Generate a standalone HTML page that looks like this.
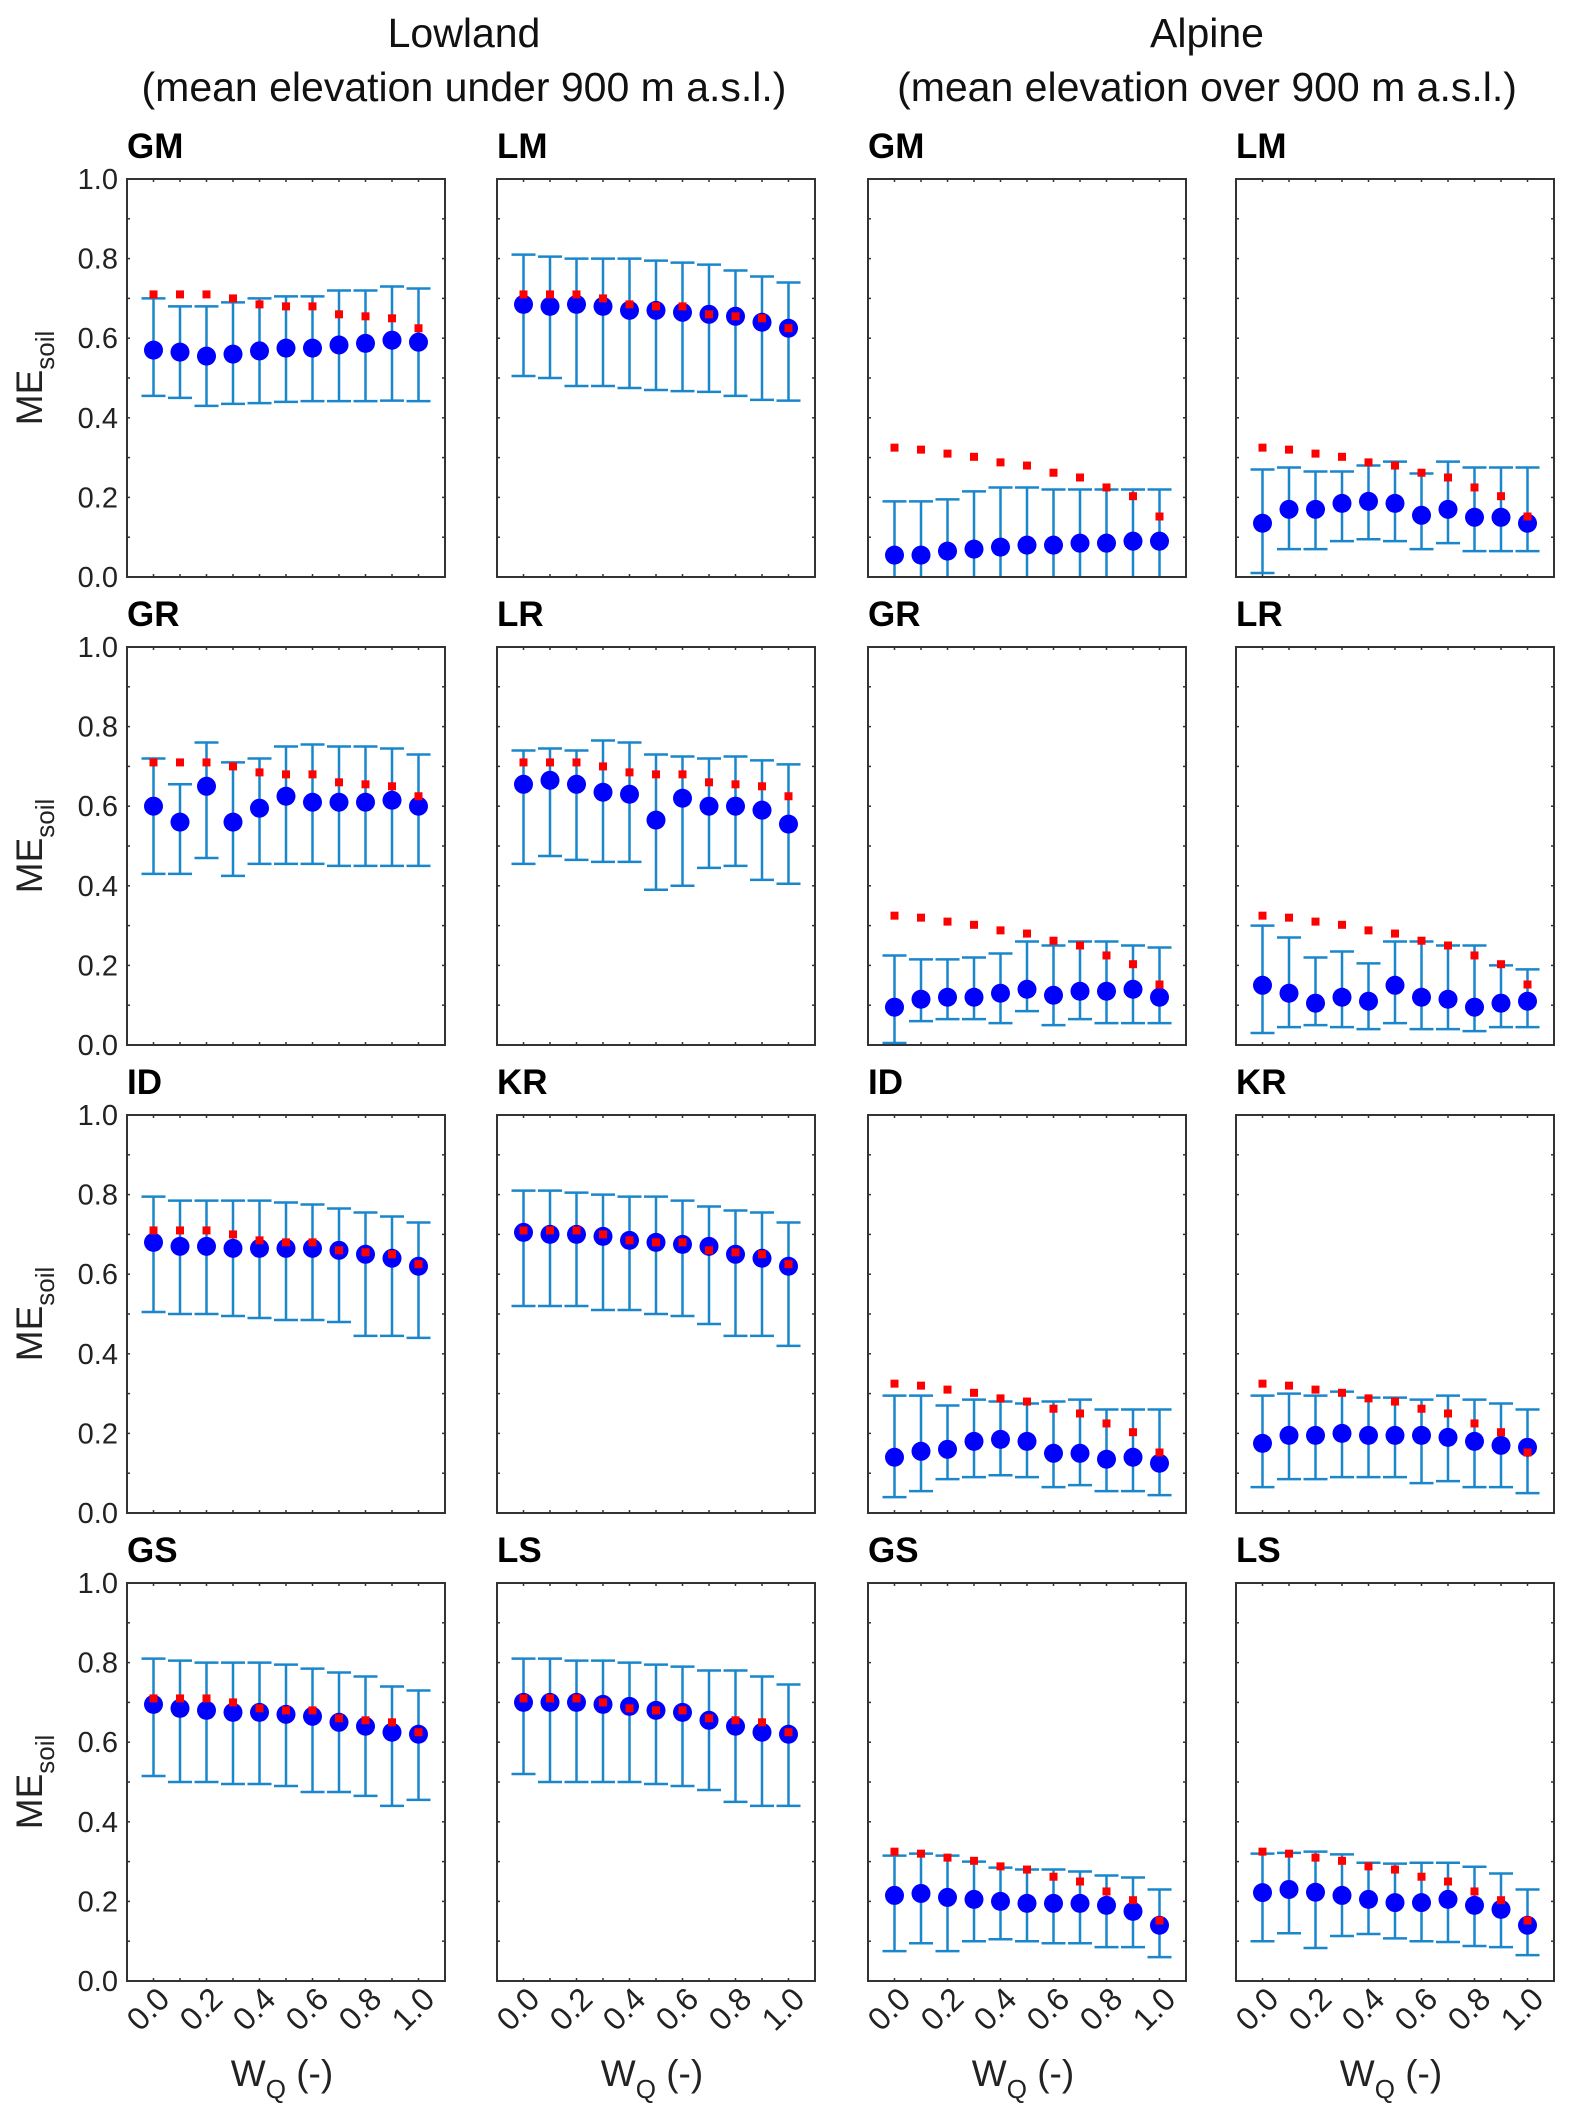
<!DOCTYPE html>
<html><head><meta charset="utf-8"><style>
html,body{margin:0;padding:0;background:#fff;}
svg{display:block;font-family:"Liberation Sans",Arial,sans-serif;}
</style></head><body>
<svg id="fig" width="1574" height="2124" viewBox="0 0 1574 2124" xmlns="http://www.w3.org/2000/svg">
<text x="464" y="47" font-size="41" text-anchor="middle" fill="#111">Lowland</text>
<text x="464" y="101" font-size="41" text-anchor="middle" fill="#111">(mean elevation under 900 m a.s.l.)</text>
<text x="1207" y="47" font-size="41" text-anchor="middle" fill="#111">Alpine</text>
<text x="1207" y="101" font-size="41" text-anchor="middle" fill="#111">(mean elevation over 900 m a.s.l.)</text>
</svg>
<script>
const wq = [0,0.1,0.2,0.3,0.4,0.5,0.6,0.7,0.8,0.9,1.0];
const xTickLabels = ["0.0","0.2","0.4","0.6","0.8","1.0"];
const yTickLabels = ["0.0","0.2","0.4","0.6","0.8","1.0"];
const redLow = [0.71,0.71,0.71,0.70,0.685,0.68,0.68,0.66,0.655,0.65,0.625];
const redAlp = [0.325,0.32,0.31,0.302,0.288,0.28,0.262,0.25,0.225,0.203,0.152];
const panelNames = ["GM","LM","GM","LM","GR","LR","GR","LR","ID","KR","ID","KR","GS","LS","GS","LS"];
const means = [
[.57,.565,.555,.56,.568,.575,.575,.583,.587,.595,.59],
[.685,.68,.685,.68,.67,.67,.665,.66,.655,.64,.625],
[.055,.055,.065,.07,.075,.08,.08,.085,.085,.09,.09],
[.135,.17,.17,.185,.19,.185,.155,.17,.15,.15,.135],
[.60,.56,.65,.56,.595,.625,.61,.61,.61,.615,.60],
[.655,.665,.655,.635,.63,.565,.62,.60,.60,.59,.555],
[.095,.115,.12,.12,.13,.14,.125,.135,.135,.14,.12],
[.15,.13,.105,.12,.11,.15,.12,.115,.095,.105,.11],
[.68,.67,.67,.665,.665,.665,.665,.66,.65,.64,.62],
[.705,.70,.70,.695,.685,.68,.675,.67,.65,.64,.62],
[.14,.155,.16,.18,.185,.18,.15,.15,.135,.14,.125],
[.175,.195,.195,.20,.195,.195,.195,.19,.18,.17,.165],
[.695,.685,.68,.675,.675,.67,.665,.65,.64,.625,.62],
[.70,.70,.70,.695,.69,.68,.675,.655,.64,.625,.62],
[.215,.22,.21,.205,.20,.195,.195,.195,.19,.175,.14],
[.222,.23,.223,.215,.205,.197,.197,.205,.19,.18,.14]];
const lows = [
[.455,.45,.43,.435,.437,.44,.442,.442,.442,.443,.442],
[.505,.50,.48,.48,.475,.47,.467,.465,.455,.445,.443],
[-.05,-.05,-.05,-.05,-.05,-.05,-.05,-.05,-.05,-.05,-.05],
[.01,.07,.07,.09,.095,.09,.07,.085,.065,.065,.065],
[.43,.43,.47,.425,.455,.455,.455,.45,.45,.45,.45],
[.455,.475,.465,.46,.46,.39,.40,.445,.45,.415,.405],
[.005,.06,.065,.065,.055,.085,.05,.065,.055,.055,.055],
[.03,.045,.05,.045,.04,.055,.04,.04,.035,.045,.045],
[.505,.50,.50,.495,.49,.485,.485,.48,.445,.445,.44],
[.52,.52,.52,.51,.51,.50,.495,.475,.445,.445,.42],
[.04,.055,.085,.09,.095,.09,.065,.07,.055,.055,.045],
[.065,.085,.085,.09,.09,.09,.075,.08,.065,.065,.05],
[.515,.50,.50,.495,.495,.49,.475,.475,.465,.44,.455],
[.52,.50,.50,.50,.50,.495,.49,.48,.45,.44,.44],
[.075,.095,.075,.10,.105,.10,.095,.095,.085,.085,.06],
[.10,.12,.083,.113,.118,.107,.10,.098,.088,.085,.065]];
const highs = [
[.70,.68,.68,.69,.70,.705,.705,.72,.72,.73,.725],
[.81,.805,.80,.80,.80,.795,.79,.785,.77,.755,.74],
[.19,.19,.195,.215,.225,.225,.22,.22,.22,.22,.22],
[.27,.275,.265,.265,.28,.29,.26,.29,.275,.275,.275],
[.72,.655,.76,.71,.72,.75,.755,.75,.75,.745,.73],
[.74,.745,.74,.765,.76,.73,.725,.72,.725,.715,.705],
[.225,.215,.215,.22,.23,.26,.25,.26,.26,.25,.245],
[.30,.27,.22,.235,.205,.26,.26,.25,.25,.20,.19],
[.795,.785,.785,.785,.785,.78,.775,.765,.755,.745,.73],
[.81,.81,.805,.80,.795,.795,.785,.77,.76,.755,.73],
[.295,.295,.27,.285,.28,.275,.28,.285,.26,.26,.26],
[.295,.30,.295,.305,.29,.29,.285,.295,.285,.275,.26],
[.81,.805,.80,.80,.80,.795,.785,.775,.765,.74,.73],
[.81,.81,.805,.805,.80,.795,.79,.78,.78,.765,.745],
[.315,.32,.315,.30,.285,.28,.28,.275,.265,.26,.23],
[.32,.322,.325,.318,.297,.295,.297,.297,.287,.27,.23]];

const NS="http://www.w3.org/2000/svg";
const svg=document.getElementById('fig');
const colX=[127,497,868,1236], rowY=[179,647,1115,1583], PW=318, PH=398;
function mk(tag,attrs,parent){const e=document.createElementNS(NS,tag);for(const k in attrs)e.setAttribute(k,attrs[k]);(parent||svg).appendChild(e);return e;}

for(let p=0;p<16;p++){
  const r=Math.floor(p/4), c=p%4, X0=colX[c], Y0=rowY[r];
  const xs=v=>X0+PW*(v+0.1)/1.2;
  const ys=v=>Y0+PH*(1-v);
  const g=mk('g',{});
  
  
  const clip='clip'+p;
  const cp=mk('clipPath',{id:clip},g);mk('rect',{x:X0,y:Y0,width:PW,height:PH},cp);
  const t=mk('text',{x:X0,y:Y0-21,'font-size':35,'font-weight':'bold',fill:'#000'},g);t.textContent=panelNames[p];
  
  
  for(let k=0;k<=10;k++){const y=ys(k/10);
    mk('line',{x1:X0,x2:X0+3,y1:y,y2:y,stroke:'#333','stroke-width':1.5},g);
    mk('line',{x1:X0+PW-3,x2:X0+PW,y1:y,y2:y,stroke:'#333','stroke-width':1.5},g);}
  wq.forEach(v=>{const x=xs(v);
    mk('line',{x1:x,x2:x,y1:Y0+PH-3,y2:Y0+PH,stroke:'#333','stroke-width':1.5},g);
    mk('line',{x1:x,x2:x,y1:Y0,y2:Y0+3,stroke:'#333','stroke-width':1.5},g);});
  if(c===0){
    yTickLabels.forEach(l=>{const tl=mk('text',{x:X0-9,y:ys(parseFloat(l))+10,'font-size':29,'text-anchor':'end',fill:'#222'},g);tl.textContent=l;
      
      });
    const yl=mk('text',{transform:`translate(42,${Y0+PH/2}) rotate(-90)`,'font-size':37,'text-anchor':'middle',fill:'#222'},g);
    yl.innerHTML='ME<tspan font-size="26" dy="12">soil</tspan>';
    
    }
  if(r===3){
    xTickLabels.forEach(l=>{const x=xs(parseFloat(l));
      const tl=mk('text',{transform:`translate(${x+18},${Y0+PH+20}) rotate(-45)`,'font-size':32,'text-anchor':'end',fill:'#222'},g);tl.textContent=l;
      
      });
    const xl=mk('text',{x:X0+PW/2-4,y:2086,'font-size':37,'text-anchor':'middle',fill:'#222'},g);
    xl.innerHTML='W<tspan font-size="26" dy="12">Q</tspan><tspan dy="-12"> (-)</tspan>';
    
    }
  const dg=mk('g',{'clip-path':`url(#${clip})`},g);
  const red=c<2?redLow:redAlp;
  wq.forEach((v,i)=>{const x=xs(v),yl=ys(lows[p][i]),yh=ys(highs[p][i]);
    const eb=mk('path',{d:`M${x},${yl}V${yh}M${x-12},${yl}H${x+12}M${x-12},${yh}H${x+12}`,stroke:'#1a86cc','stroke-width':2.5,fill:'none'},dg);
    
    
    const ci=mk('circle',{cx:x,cy:ys(means[p][i]),r:9.5,fill:'#0000ff'},dg);
    
    
    const sq=mk('rect',{x:x-4,y:ys(red[i])-4,width:8,height:8,fill:'#ff0000'},dg);
    
    });
  mk('rect',{x:X0,y:Y0,width:PW,height:PH,fill:'none',stroke:'#333','stroke-width':2},g);
}
</script>
</body></html>
